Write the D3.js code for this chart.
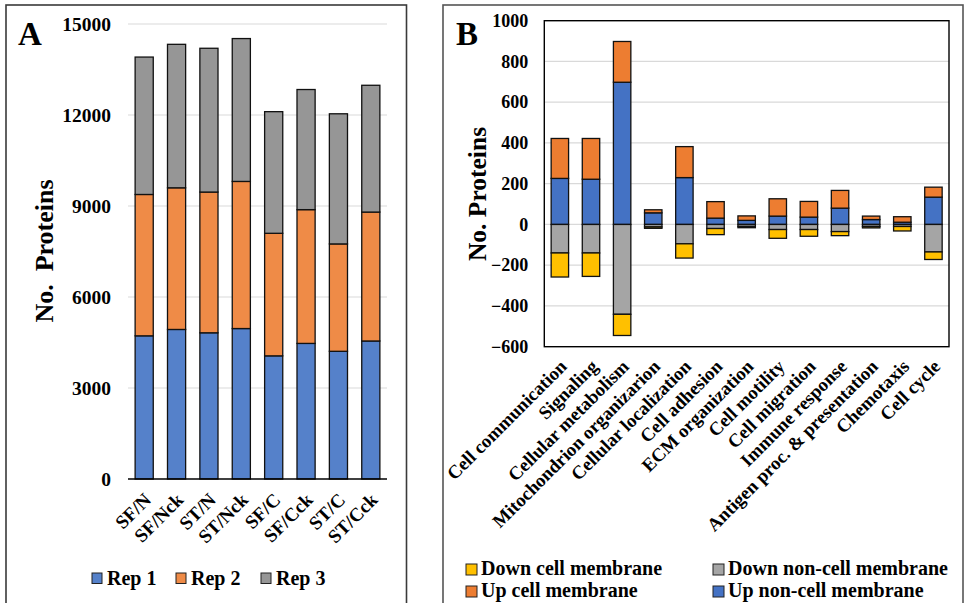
<!DOCTYPE html>
<html>
<head>
<meta charset="utf-8">
<script src="https://cdn.jsdelivr.net/npm/d3@7"></script>
<style>
  body { margin: 0; background: #fff; }
  svg { display: block; }
  text { font-family: "Liberation Serif", "Times New Roman", serif; font-weight: bold; fill: #000; }
</style>
</head>
<body>
<svg id="chart" width="970" height="603"></svg>
<script>
// ---------- Panel A data ----------
const samplesA = ["SF/N", "SF/Nck", "ST/N", "ST/Nck", "SF/C", "SF/Cck", "ST/C", "ST/Cck"];
const rep1 = [4720, 4930, 4820, 4960, 4060, 4470, 4210, 4550];
const rep2 = [4660, 4670, 4640, 4850, 4040, 4410, 3540, 4250];
const rep3 = [4530, 4730, 4740, 4710, 4010, 3960, 4290, 4180];
const seriesA = ["Rep 1", "Rep 2", "Rep 3"];
const ticksA = [0, 3000, 6000, 9000, 12000, 15000];

// ---------- Panel B data ----------
const categoriesB = ["Cell communication", "Signaling", "Cellular metabolism", "Mitochondrion organizarion",
  "Cellular localization", "Cell adhesion", "ECM organization", "Cell motility", "Cell migration",
  "Immune response", "Antigen proc. & presentation", "Chemotaxis", "Cell cycle"];
const upNonCell   = [226, 222, 698, 57, 230, 31, 20, 41, 36, 80, 24, 11, 134];
const upCell      = [196, 200, 200, 15, 152, 81, 22, 85, 77, 87, 17, 27, 49];
const downNonCell = [-140, -140, -441, -12, -95, -20, -10, -25, -25, -35, -10, -10, -135];
const downCell    = [-118, -115, -104, -7, -70, -30, -6, -43, -33, -20, -7, -22, -37];
const ticksB = [-600, -400, -200, 0, 200, 400, 600, 800, 1000];

const svg = d3.select("#chart");

// ---------- Panel frames ----------
svg.append("rect").attr("x", 6).attr("y", 5).attr("width", 400.5).attr("height", 610)
  .attr("fill", "none").attr("stroke", "#3a3a3a").attr("stroke-width", 1.6);
svg.append("rect").attr("x", 443).attr("y", 5).attr("width", 520).attr("height", 610)
  .attr("fill", "none").attr("stroke", "#555").attr("stroke-width", 1.6);

// ================= Panel A =================
{
  const colors = ["#5581CA", "#EF8B47", "#969696"];
  const x = d3.scaleBand().domain(samplesA).range([128, 387]).paddingInner(0.44).paddingOuter(0.22);
  const y = d3.scaleLinear().domain([0, 15000]).range([479, 24]);
  const rows = samplesA.map((s, i) => ({ s, "Rep 1": rep1[i], "Rep 2": rep2[i], "Rep 3": rep3[i] }));
  const stack = d3.stack().keys(seriesA)(rows);
  const g = svg.append("g");

  g.selectAll("line.grid").data(ticksA.filter(t => t !== 0)).join("line")
    .attr("x1", 128).attr("x2", 387).attr("y1", d => y(d)).attr("y2", d => y(d))
    .attr("stroke", "#d9d9d9").attr("stroke-width", 1.2);

  const ya = g.append("g").attr("transform", "translate(128,0)")
    .call(d3.axisLeft(y).tickValues(ticksA).tickSize(0).tickPadding(17).tickFormat(d3.format("d")));
  ya.select(".domain").remove();
  ya.selectAll("text").style("font-size", "19.5px").style("font-family", "Liberation Serif").style("font-weight", "bold").attr("fill", "#000");

  g.selectAll("g.series").data(stack).join("g")
    .attr("fill", (d, i) => colors[i])
    .selectAll("rect").data(d => d).join("rect")
    .attr("x", d => x(d.data.s)).attr("width", x.bandwidth())
    .attr("y", d => y(d[1])).attr("height", d => y(d[0]) - y(d[1]))
    .attr("stroke", "#111").attr("stroke-width", 1.3);

  g.append("line").attr("x1", 128).attr("x2", 387).attr("y1", y(0)).attr("y2", y(0))
    .attr("stroke", "#000").attr("stroke-width", 1.5);

  g.selectAll("text.xl").data(samplesA).join("text")
    .attr("text-anchor", "end")
    .attr("transform", d => `translate(${x(d) + x.bandwidth() / 2 + 8},${y(0) + 22}) rotate(-45)`)
    .style("font-size", "19px").text(d => d);

  g.append("text").attr("transform", "translate(53,251) rotate(-90)")
    .attr("text-anchor", "middle").style("font-size", "26px")
    .text("No.\u00a0 Proteins");

  g.append("text").attr("x", 18).attr("y", 45).style("font-size", "33px").text("A");

  const lx = [92, 176, 261];
  seriesA.forEach((s, i) => {
    g.append("rect").attr("x", lx[i]).attr("y", 573).attr("width", 10).attr("height", 10.5)
      .attr("fill", colors[i]).attr("stroke", "#222").attr("stroke-width", 1);
    g.append("text").attr("x", lx[i] + 15).attr("y", 585).style("font-size", "20px").text(s);
  });
}

// ================= Panel B =================
{
  const keys = ["upNonCell", "upCell", "downNonCell", "downCell"];
  const colors = { upNonCell: "#4472C4", upCell: "#ED7D31", downNonCell: "#A5A5A5", downCell: "#FFC000" };
  const left = 544.3, right = 949, top = 20.7, bottom = 346.7;
  const x = d3.scaleBand().domain(categoriesB).range([left, right]).paddingInner(0.44).paddingOuter(0.22);
  const y = d3.scaleLinear().domain([-600, 1000]).range([bottom, top]);
  const rows = categoriesB.map((c, i) => ({ c, upNonCell: upNonCell[i], upCell: upCell[i], downNonCell: downNonCell[i], downCell: downCell[i] }));
  const stack = d3.stack().keys(keys).offset(d3.stackOffsetDiverging)(rows);
  const g = svg.append("g");

  g.selectAll("line.grid").data(ticksB.filter(t => t !== -600 && t !== 1000)).join("line")
    .attr("x1", left).attr("x2", right).attr("y1", d => y(d)).attr("y2", d => y(d))
    .attr("stroke", "#d9d9d9").attr("stroke-width", 1.2);

  g.selectAll("g.series").data(stack).join("g")
    .attr("fill", d => colors[d.key])
    .selectAll("rect").data(d => d).join("rect")
    .attr("x", d => x(d.data.c)).attr("width", x.bandwidth())
    .attr("y", d => y(Math.max(d[0], d[1]))).attr("height", d => Math.abs(y(d[0]) - y(d[1])))
    .attr("stroke", "#111").attr("stroke-width", 1.3);

  g.append("rect").attr("x", left).attr("y", top).attr("width", right - left).attr("height", bottom - top)
    .attr("fill", "none").attr("stroke", "#000").attr("stroke-width", 1.4);

  const ya = g.append("g").attr("transform", `translate(${left},0)`)
    .call(d3.axisLeft(y).tickValues(ticksB).tickSize(0).tickPadding(16).tickFormat(d3.format("d")));
  ya.select(".domain").remove();
  ya.selectAll("text").style("font-size", "18px").style("font-family", "Liberation Serif").style("font-weight", "bold").attr("fill", "#000");

  g.selectAll("text.xl").data(categoriesB).join("text")
    .attr("text-anchor", "end")
    .attr("transform", d => `translate(${x(d) + x.bandwidth() / 2 + 8},${bottom + 21}) rotate(-45)`)
    .style("font-size", "18.7px").text(d => d);

  g.append("text").attr("transform", "translate(486,194) rotate(-90)")
    .attr("text-anchor", "middle").style("font-size", "25.5px").text("No. Proteins");

  g.append("text").attr("x", 456).attr("y", 45).style("font-size", "33px").text("B");

  const legend = [
    { k: "downCell", t: "Down cell membrane", x: 466, y: 564 },
    { k: "downNonCell", t: "Down non-cell membrane", x: 713, y: 564 },
    { k: "upCell", t: "Up cell membrane", x: 466, y: 586 },
    { k: "upNonCell", t: "Up non-cell membrane", x: 713, y: 586 }
  ];
  legend.forEach(l => {
    g.append("rect").attr("x", l.x).attr("y", l.y).attr("width", 11).attr("height", 11)
      .attr("fill", colors[l.k]).attr("stroke", "#222").attr("stroke-width", 1);
    g.append("text").attr("x", l.x + 15).attr("y", l.y + 11).style("font-size", "20px").text(l.t);
  });
}
</script>
</body>
</html>
